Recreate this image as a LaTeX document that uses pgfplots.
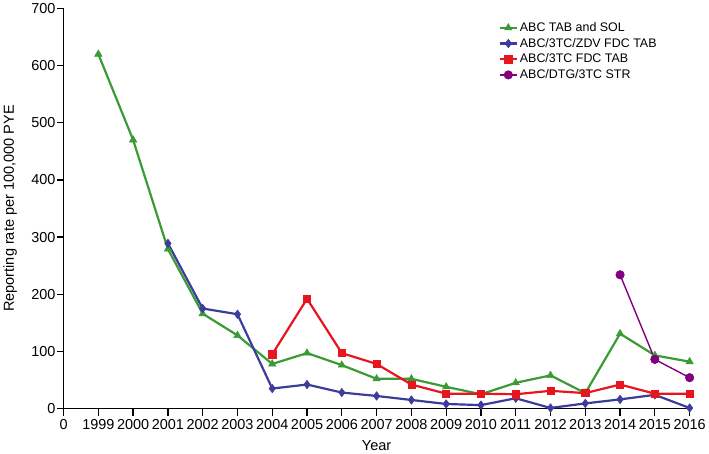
\documentclass[border=0pt]{standalone}
\usepackage{fontspec}
\setmainfont{Liberation Sans}
\usepackage{pgfplots}
\pgfplotsset{compat=1.18}
\definecolor{cGreen}{RGB}{58,155,53}
\definecolor{cBlue}{RGB}{60,60,155}
\definecolor{cRed}{RGB}{232,20,30}
\definecolor{cPurple}{RGB}{128,0,128}
\begin{document}
\begin{tikzpicture}
\begin{axis}[
  scale only axis,
  width=629pt, height=402pt,
  xmin=0, xmax=18, ymin=0, ymax=700,
  axis lines=left,
  axis line style={-, line width=1.6pt},
  tick align=outside,
  major tick length=7pt,
  tick style={line width=1.3pt, black},
  xtick={0,...,18},
  xticklabels={0,1999,2000,2001,2002,2003,2004,2005,2006,2007,2008,2009,2010,2011,2012,2013,2014,2015,2016},
  ytick={0,100,...,700},
  ticklabel style={font=\fontsize{14.5}{16}\selectfont},
  yticklabel style={inner xsep=1pt},
  xticklabel style={inner ysep=4pt},
  /pgf/number format/assume math mode=true,
  xlabel={Year},
  ylabel={Reporting rate per 100,000 PYE},
  label style={font=\fontsize{14.6}{16}\selectfont},
  xlabel style={yshift=-3pt},
  ylabel style={yshift=10pt},
  clip=false,
  legend cell align=left,
  legend style={draw=none, fill=none, at={(0.69,0.975)}, anchor=north west,
    font=\fontsize{12.5}{14}\selectfont, row sep=1.2pt},
]
\addplot[cGreen, line width=2.2pt, mark=triangle*, mark size=4.3pt, mark options={line width=0.5pt}] coordinates {
(1,620) (2,470) (3,279) (4,166) (5,128) (6,78) (7,97) (8,76) (9,52) (10,52)
(11,38) (12,25) (13,45) (14,58) (15,27) (16,131) (17,93) (18,82)
};
\addlegendentry{ABC TAB and SOL}
\addplot[cBlue, line width=2.2pt, mark=diamond*, mark size=4.3pt, mark options={line width=0.5pt}] coordinates {
(3,289) (4,175) (5,165) (6,35) (7,42) (8,28) (9,22) (10,15) (11,8) (12,6)
(13,18) (14,1) (15,9) (16,16) (17,24) (18,1)
};
\addlegendentry{ABC/3TC/ZDV FDC TAB}
\addplot[cRed, line width=2.2pt, mark=square*, mark size=3.6pt, mark options={line width=0.5pt}] coordinates {
(6,95) (7,192) (8,97) (9,78) (10,42) (11,26) (12,26) (13,25) (14,31) (15,27)
(16,42) (17,26) (18,26)
};
\addlegendentry{ABC/3TC FDC TAB}
\addplot[cPurple, line width=1.4pt, mark=*, mark size=4.3pt, mark options={line width=0.5pt}] coordinates {
(16,234) (17,86) (18,54)
};
\addlegendentry{ABC/DTG/3TC STR}
\end{axis}
\end{tikzpicture}
\end{document}
